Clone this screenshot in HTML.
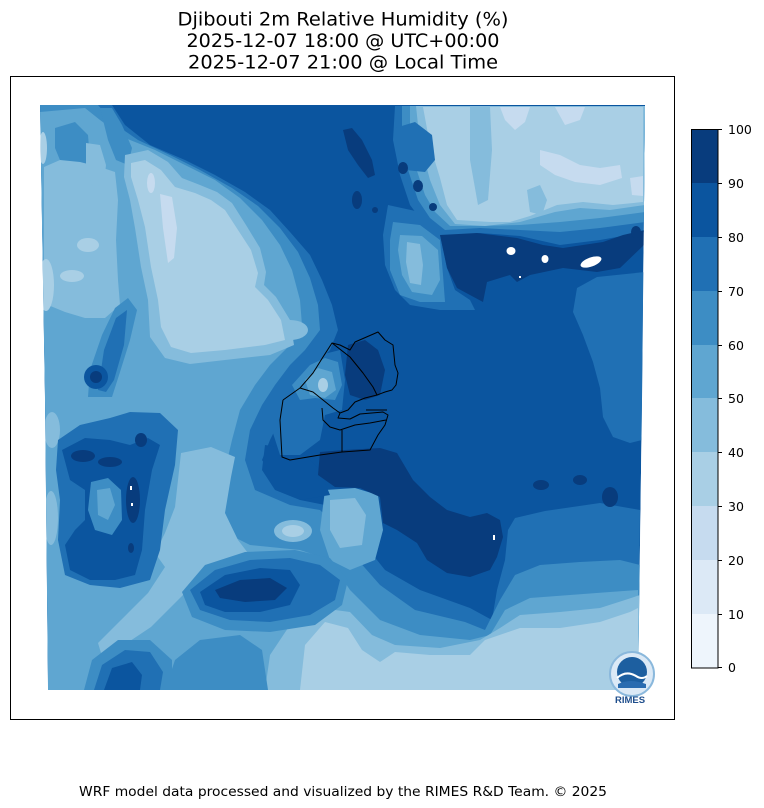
<!DOCTYPE html>
<html><head><meta charset="utf-8"><style>
html,body{margin:0;padding:0;background:#fff;}
svg{display:block;font-family:"DejaVu Sans","Liberation Sans",sans-serif;}
</style></head><body>
<svg width="764" height="808" viewBox="0 0 764 808" xmlns="http://www.w3.org/2000/svg">
<defs>
<clipPath id="mp"><polygon points="40,105 645,105 642,400 638,690 48,690 45,400"/></clipPath>
</defs>
<rect width="764" height="808" fill="#fff"/>
<text x="343" y="25.5" font-size="19" text-anchor="middle" textLength="331" lengthAdjust="spacingAndGlyphs" fill="#000">Djibouti 2m Relative Humidity (%)</text>
<text x="343" y="47" font-size="19" text-anchor="middle" textLength="313" lengthAdjust="spacingAndGlyphs" fill="#000">2025-12-07 18:00 @ UTC+00:00</text>
<text x="343" y="68.5" font-size="19" text-anchor="middle" textLength="310" lengthAdjust="spacingAndGlyphs" fill="#000">2025-12-07 21:00 @ Local Time</text>

<g clip-path="url(#mp)" stroke-linejoin="round">
<polygon fill="#0b559f" points="40,105 645,105 642,400 638,690 48,690 45,400"/>
<!-- C7 -->
<g fill="#2070b4">
<polygon points="40,105 112,105 125,125 150,145 185,160 215,175 245,192 270,210 290,232 310,255 322,280 332,305 338,330 330,350 315,365 300,380 290,400 280,420 270,440 262,460 275,480 300,500 325,505 345,515 365,545 385,570 420,590 470,608 492,620 497,590 505,560 508,530 515,518 545,511 600,503 640,510 638,690 48,690 45,400"/>
<polygon points="645,272 597,277 577,288 573,312 583,335 593,362 600,388 603,417 613,437 630,443 642,440"/>
</g>
<!-- C6 -->
<g fill="#3d8dc4">
<polygon points="40,105 98,105 112,122 138,140 170,155 200,170 232,188 258,206 280,228 298,252 310,278 318,305 320,330 305,350 290,365 275,385 262,405 250,430 245,460 255,490 290,505 320,510 340,530 358,560 380,585 415,610 465,622 485,630 500,600 515,575 540,565 580,562 620,560 640,565 638,690 48,690 45,400"/>
</g>
<!-- C5 -->
<g fill="#5fa6d1">
<polygon points="40,112 85,108 100,120 125,138 155,150 185,165 215,180 240,198 262,220 280,245 292,270 300,300 302,325 290,345 270,365 255,385 240,410 232,440 225,470 215,500 220,530 250,545 300,550 330,560 350,590 380,620 420,635 470,640 490,635 505,610 530,598 570,595 610,592 638,590 638,690 48,690 45,400"/>
<polygon points="325,490 355,488 378,495 383,530 375,560 350,570 330,560 320,530"/>
</g>
<!-- top-left C6 patches -->
<g fill="#3d8dc4">
<polygon points="55,128 75,122 88,135 90,160 80,170 62,165 55,148"/>
<polygon points="100,108 112,108 122,125 132,148 128,165 116,160 108,140"/>
</g>
<!-- C4 -->
<g fill="#85bcdc">
<polygon points="44,167 60,160 80,162 100,167 115,172 118,200 116,240 118,280 120,305 105,318 85,318 65,312 48,305 44,260"/>
<polygon points="86,143 100,145 106,165 104,185 92,186 86,165"/>
<polygon points="125,155 148,150 168,162 182,178 200,185 217,192 232,203 246,225 260,248 266,272 264,285 276,297 290,320 294,345 270,355 225,360 190,364 165,358 150,337 148,300 141,267 135,228 130,200 124,177"/>
<polygon points="181,453 211,447 235,457 231,477 225,513 238,540 251,557 225,567 198,580 178,600 151,627 121,647 101,653 98,643 121,620 148,593 165,567 155,553 165,533 175,507 178,480"/>
<polygon points="265,690 270,655 290,625 320,608 350,612 372,635 395,645 440,648 480,640 500,628 520,615 560,612 600,608 625,600 640,595 638,690"/>
<polygon points="330,500 355,498 366,515 362,545 340,548 330,530"/>
<ellipse cx="293" cy="531" rx="19" ry="11"/>
<ellipse cx="52" cy="430" rx="8" ry="18"/>
<ellipse cx="51" cy="518" rx="7" ry="27"/>
<ellipse cx="290" cy="330" rx="18" ry="10"/>
</g>
<!-- C3 -->
<g fill="#a9cfe5">
<polygon points="131,163 145,160 161,170 175,187 195,193 211,200 225,210 238,230 251,250 258,273 255,287 268,300 281,320 285,340 265,345 225,350 191,353 171,347 161,327 158,300 151,267 145,227 138,200 131,177"/>
<polygon points="300,690 305,645 325,622 348,628 362,650 380,662 395,652 430,655 470,655 485,640 520,628 560,628 600,622 630,612 638,608 638,690"/>
<ellipse cx="88" cy="245" rx="11" ry="7"/>
<ellipse cx="72" cy="276" rx="12" ry="6"/>
<ellipse cx="46" cy="285" rx="8" ry="26"/>
<ellipse cx="43" cy="148" rx="4" ry="16"/>
<ellipse cx="293" cy="531" rx="11" ry="6"/>
</g>
<!-- C2 -->
<g fill="#c6dbef">
<polygon points="160,194 172,197 177,228 174,258 168,263 163,228"/>
<ellipse cx="151" cy="183" rx="4" ry="10"/>
</g>
<!-- upper-left dark streak -->
<polygon fill="#3d8dc4" points="88,397 90,370 102,335 115,308 128,298 137,310 130,340 120,372 112,397"/>
<polygon fill="#2070b4" points="98,390 104,350 116,318 127,310 124,345 114,380 106,392"/>
<ellipse cx="96" cy="377" rx="12" ry="12" fill="#0b559f"/>
<ellipse cx="96" cy="377" rx="6" ry="6" fill="#083c7d"/>
<!-- lower-left dark cluster -->
<polygon fill="#2070b4" points="58,440 80,425 110,418 130,412 160,413 178,430 175,465 165,510 160,550 150,580 120,588 90,585 65,575 58,540 60,500 56,470"/>
<polygon fill="#0b559f" points="62,450 85,438 110,440 130,445 148,438 160,445 152,470 145,510 142,550 135,575 115,580 90,580 70,570 65,545 75,530 85,520 85,490 70,480"/>
<polygon fill="#3d8dc4" points="91,482 108,478 121,490 122,520 112,535 95,530 88,510"/>
<polygon fill="#5fa6d1" points="97,490 110,488 115,505 108,520 98,515"/>
<g fill="#083c7d">
<ellipse cx="83" cy="456" rx="12" ry="6"/>
<ellipse cx="110" cy="462" rx="12" ry="5"/>
<ellipse cx="133" cy="500" rx="7" ry="23"/>
<ellipse cx="131" cy="548" rx="3" ry="5"/>
<ellipse cx="141" cy="440" rx="6" ry="7"/>
</g>
<!-- lower-left big dark blob -->
<polygon fill="#3d8dc4" points="182,592 205,565 245,552 295,550 330,558 348,580 342,605 315,625 270,632 225,630 192,617"/>
<polygon fill="#2070b4" points="190,590 215,570 250,560 290,558 320,565 340,580 335,600 310,615 270,622 230,620 200,610"/>
<polygon fill="#0b559f" points="200,592 225,575 260,568 290,570 300,585 290,605 260,612 225,612 205,605"/>
<polygon fill="#083c7d" points="215,590 240,580 270,578 287,588 275,600 245,602 220,598"/>
<!-- bottom-left -->
<polygon fill="#3d8dc4" points="165,690 175,660 200,640 240,635 262,650 268,690"/>
<polygon fill="#3d8dc4" points="84,690 92,660 118,640 150,640 172,660 172,690"/>
<polygon fill="#2070b4" points="94,690 102,665 125,650 150,652 163,672 160,690"/>
<polygon fill="#0b559f" points="104,690 112,668 132,662 142,675 140,690"/>
<!-- west of Djibouti -->
<polygon fill="#0b559f" points="265,445 300,450 320,470 330,495 300,500 275,490 262,470"/>
<polygon fill="#2070b4" points="275,400 290,385 305,370 320,355 340,350 345,380 342,410 325,415 320,440 300,455 280,455 272,430"/>
<polygon fill="#3d8dc4" points="292,385 310,365 325,358 338,362 342,385 335,400 315,398 300,400"/>
<polygon fill="#5fa6d1" points="305,380 318,368 332,372 336,390 325,398 310,395"/>
<ellipse cx="323" cy="385" rx="5" ry="7" fill="#a9cfe5"/>
<!-- upper right light region -->
<polygon fill="#2070b4" points="395,106 645,106 645,232 600,240 560,245 520,236 480,233 440,236 425,225 410,205 400,175 393,140"/>
<polygon fill="#3d8dc4" points="402,106 645,106 645,222 600,228 560,232 520,230 480,228 445,230 430,218 418,200 408,170 402,140"/>
<polygon fill="#5fa6d1" points="410,106 645,106 645,212 600,218 560,222 520,225 480,226 450,226 435,212 425,195 415,165 410,135"/>
<polygon fill="#85bcdc" points="416,106 645,106 645,205 610,210 580,208 555,212 520,222 485,226 455,224 440,205 430,180 422,150 418,125"/>
<polygon fill="#a9cfe5" points="423,107 643,107 643,202 613,205 583,202 557,205 530,216 510,222 490,222 457,220 447,205 440,178 430,145"/>
<g fill="#85bcdc">
<polygon points="470,107 490,107 492,150 488,200 478,205 470,160"/>
<polygon points="527,190 540,185 547,200 542,215 530,212"/>
</g>
<g fill="#c6dbef">
<polygon points="540,150 560,155 580,165 600,168 620,165 622,178 600,185 575,182 555,175 540,165"/>
<polygon points="500,107 530,107 525,122 515,130 505,120"/>
<polygon points="555,107 585,107 580,120 565,125"/>
<polygon points="630,178 643,176 643,196 632,195"/>
</g>
<!-- tongue -->
<polygon fill="#2070b4" points="388,205 420,212 440,235 447,268 455,290 470,300 475,310 440,310 410,305 395,290 385,265 383,235"/>
<polygon fill="#3d8dc4" points="393,222 420,225 440,240 443,275 445,302 420,302 400,295 390,270 390,240"/>
<polygon fill="#5fa6d1" points="400,235 422,236 438,250 440,280 432,295 412,292 402,275 398,250"/>
<polygon fill="#85bcdc" points="407,242 420,244 423,265 421,285 410,283 406,262"/>
<polygon fill="#2070b4" points="395,128 415,122 432,135 435,160 425,172 405,170 395,150"/>
<!-- C9 regions -->
<g fill="#083c7d">
<polygon points="440,235 477,233 517,238 543,245 563,248 583,245 603,242 623,235 645,230 645,244 620,268 597,272 563,268 530,275 517,282 510,275 487,282 483,302 470,295 457,288 447,268"/>
<polygon points="320,452 345,450 380,448 397,453 413,480 430,497 447,510 470,517 487,513 500,520 503,537 497,557 490,570 470,577 447,573 427,560 417,543 397,530 383,523 380,497 360,488 335,487 318,475"/>
<polygon points="348,345 365,340 378,350 385,370 380,395 365,400 350,395 345,375"/>
<polygon points="343,130 352,128 362,140 372,160 375,175 368,178 358,165 348,150"/>
<ellipse cx="357" cy="200" rx="5" ry="9"/>
<ellipse cx="403" cy="168" rx="5" ry="6"/>
<ellipse cx="418" cy="186" rx="5" ry="6"/>
<ellipse cx="433" cy="207" rx="4" ry="4"/>
<ellipse cx="375" cy="210" rx="3" ry="3"/>
<ellipse cx="541" cy="485" rx="8" ry="5"/>
<ellipse cx="580" cy="480" rx="7" ry="5"/>
<ellipse cx="610" cy="497" rx="8" ry="10"/>
<ellipse cx="636" cy="232" rx="5" ry="6"/>
</g>
<!-- white (no data) spots -->
<g fill="#ffffff">
<ellipse cx="511" cy="251" rx="4.5" ry="4"/>
<ellipse cx="545" cy="259" rx="3.5" ry="4"/>
<ellipse cx="591" cy="262" rx="11" ry="4.5" transform="rotate(-20 591 262)"/>
<rect x="519" y="276" width="2" height="2"/>
<rect x="493" y="535" width="2" height="5"/>
<rect x="130" y="486" width="2" height="4"/>
<rect x="131" y="503" width="2" height="3"/>
</g>
<!-- Djibouti borders -->
<g fill="none" stroke="#000" stroke-width="1">
<path d="M283,400 L300,388 L313,373 L323,357 L332,343 L340,345 L350,350 L355,342 L378,332 L385,340 L393,345 L395,365 L398,373 L396,385 L392,390 L385,392 L377,395 L365,398 L355,402 L348,410 L340,413"/>
<path d="M340,413 L338,418 L350,419 L360,414 L383,412 L388,415 L385,425 L378,435 L370,450 L342,452 L320,455 L290,460 L282,457 L280,420 L283,400"/>
<path d="M332,343 L350,357 L363,373 L373,387 L377,395"/>
<path d="M300,388 L313,392 L323,400 L333,408 L340,413"/>
<path d="M322,408 L323,420 L330,427 L340,430 L355,425 L370,423 L386,420"/>
<path d="M342,430 L342,452"/>
<path d="M366,410 L387,410"/>
</g>
</g>

<!-- logo -->
<circle cx="632" cy="674" r="22" fill="#dbe9f6" stroke="#8ab8dc" stroke-width="2"/>
<circle cx="632" cy="672" r="15" fill="#1d5fa0"/>
<path d="M617,678 Q626,670 636,676 Q642,680 647,676" fill="none" stroke="#fff" stroke-width="2"/>
<path d="M618,684 Q630,678 646,684 L646,688 L618,688 Z" fill="#2a6cb0"/>
<text x="630" y="703" font-size="9.5" font-weight="bold" text-anchor="middle" fill="#1f4e8c" font-family="Liberation Sans, sans-serif">RIMES</text>

<!-- frame -->
<rect x="10.5" y="76.5" width="664" height="643" fill="none" stroke="#000" stroke-width="1"/>

<!-- colorbar -->
<g>
<rect x="691" y="129" width="27" height="54" fill="#083c7d"/>
<rect x="691" y="183" width="27" height="54" fill="#0b559f"/>
<rect x="691" y="237" width="27" height="54" fill="#2070b4"/>
<rect x="691" y="291" width="27" height="54" fill="#3d8dc4"/>
<rect x="691" y="345" width="27" height="53" fill="#5fa6d1"/>
<rect x="691" y="398" width="27" height="54" fill="#85bcdc"/>
<rect x="691" y="452" width="27" height="54" fill="#a9cfe5"/>
<rect x="691" y="506" width="27" height="54" fill="#c6dbef"/>
<rect x="691" y="560" width="27" height="54" fill="#dce9f6"/>
<rect x="691" y="614" width="27" height="54" fill="#eef5fc"/>
<rect x="691.5" y="129.5" width="26.5" height="538.5" fill="none" stroke="#000" stroke-width="1"/>
<g stroke="#000" stroke-width="1">
<line x1="718" y1="129.5" x2="722" y2="129.5"/>
<line x1="718" y1="183.5" x2="722" y2="183.5"/>
<line x1="718" y1="237.5" x2="722" y2="237.5"/>
<line x1="718" y1="291.5" x2="722" y2="291.5"/>
<line x1="718" y1="345.5" x2="722" y2="345.5"/>
<line x1="718" y1="398.5" x2="722" y2="398.5"/>
<line x1="718" y1="452.5" x2="722" y2="452.5"/>
<line x1="718" y1="506.5" x2="722" y2="506.5"/>
<line x1="718" y1="560.5" x2="722" y2="560.5"/>
<line x1="718" y1="614.5" x2="722" y2="614.5"/>
<line x1="718" y1="667.5" x2="722" y2="667.5"/>
</g>
<g font-size="12.5" fill="#000">
<text x="728" y="134">100</text>
<text x="728" y="188">90</text>
<text x="728" y="242">80</text>
<text x="728" y="296">70</text>
<text x="728" y="350">60</text>
<text x="728" y="403">50</text>
<text x="728" y="457">40</text>
<text x="728" y="511">30</text>
<text x="728" y="565">20</text>
<text x="728" y="619">10</text>
<text x="728" y="672">0</text>
</g>
</g>

<text x="343" y="796" font-size="13" text-anchor="middle" textLength="528" lengthAdjust="spacingAndGlyphs" fill="#000">WRF model data processed and visualized by the RIMES R&amp;D Team. © 2025</text>
</svg>
</body></html>
